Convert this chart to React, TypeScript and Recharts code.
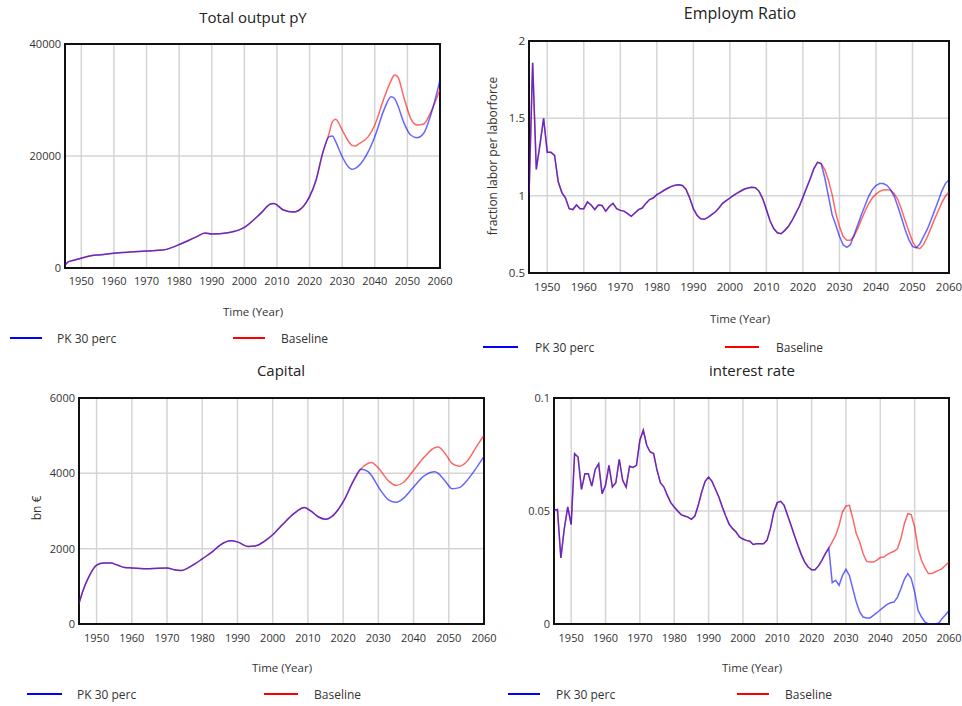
import { CartesianGrid, Line, LineChart, ReferenceArea, XAxis, YAxis } from "recharts"

const FONT = '"Open Sans", "Noto Sans", sans-serif'

const range = (from: number, to: number) =>
  Array.from({ length: to - from + 1 }, (_, i) => from + i)

const yearTicks = [1950, 1960, 1970, 1980, 1990, 2000, 2010, 2020, 2030, 2040, 2050, 2060]

// Total output pY
const outputHistYears = [
  1945, 1946, 1948, 1950, 1953, 1956, 1960, 1965, 1970, 1975, 1980, 1985, 1988, 1990, 1995, 2000,
  2005, 2008, 2009, 2012, 2015, 2018, 2020, 2022, 2024,
]
const outputHist = [
  500, 1100, 1430, 1730, 2200, 2350, 2620, 2850, 3040, 3200, 4170, 5480, 6250, 6070, 6300, 7260,
  9760, 11430, 11540, 10350, 10000, 10950, 12740, 15710, 20470,
]
const outputFutureYears = [
  2026, 2027, 2028, 2030, 2032, 2033, 2034, 2035, 2038, 2040, 2043, 2045, 2046, 2047, 2049, 2051,
  2053, 2055, 2057, 2060,
]
const outputPk = [
  23450, 23570, 22560, 19880, 17980, 17620, 17800, 18200, 20770, 23450, 28510, 30600, 30300, 29110,
  25830, 23750, 23270, 24050, 27020, 33560,
]
const outputBase = [
  24050, 26130, 26550, 24640, 22560, 21900, 21780, 22130, 23450, 25540, 30600, 33450, 34460, 34170,
  30300, 26730, 25540, 25710, 27610, 31900,
]

// Employm Ratio
const employHistYears = range(1945, 2025)
const employHist = [
  1.0, 1.86, 1.17, 1.33, 1.5, 1.28, 1.28, 1.26, 1.09, 1.02, 0.985, 0.916, 0.91, 0.94, 0.916, 0.916,
  0.96, 0.94, 0.91, 0.94, 0.937, 0.9, 0.93, 0.95, 0.916, 0.905, 0.9, 0.884, 0.866, 0.888, 0.91, 0.92,
  0.95, 0.975, 0.985, 1.007, 1.02, 1.035, 1.048, 1.06, 1.067, 1.07, 1.066, 1.04, 0.985, 0.916, 0.873,
  0.85, 0.847, 0.86, 0.877, 0.894, 0.92, 0.95, 0.968, 0.985, 1.002, 1.017, 1.03, 1.043, 1.05, 1.054,
  1.052, 1.028, 0.98, 0.91, 0.838, 0.787, 0.76, 0.754, 0.774, 0.8, 0.838, 0.884, 0.93, 0.99, 1.05,
  1.11, 1.175, 1.215, 1.207,
]
const employFutureYears = range(2026, 2060)
const employPk = [
  1.114, 0.996, 0.877, 0.81, 0.737, 0.683, 0.666, 0.683, 0.748, 0.81, 0.877, 0.937, 0.996, 1.039,
  1.065, 1.078, 1.078, 1.067, 1.039, 0.996, 0.93, 0.856, 0.78, 0.716, 0.672, 0.662, 0.687, 0.733,
  0.78, 0.838, 0.9, 0.963, 1.028, 1.078, 1.103,
]
const employBase = [
  1.168, 1.1, 1.007, 0.888, 0.8, 0.737, 0.711, 0.711, 0.737, 0.787, 0.845, 0.899, 0.948, 0.985,
  1.01, 1.028, 1.037, 1.039, 1.035, 1.013, 0.975, 0.91, 0.838, 0.77, 0.705, 0.666, 0.657, 0.683,
  0.73, 0.787, 0.845, 0.899, 0.953, 0.996, 1.024,
]

// Capital
const capitalHistYears = [
  1945, 1946, 1948, 1950, 1952, 1954, 1956, 1958, 1960, 1965, 1970, 1972, 1974, 1976, 1978, 1980,
  1983, 1985, 1988, 1990, 1993, 1995, 1998, 2000, 2003, 2006, 2009, 2011, 2013, 2015, 2017, 2020,
  2023, 2025,
]
const capitalHist = [
  540, 850, 1290, 1560, 1620, 1620, 1560, 1500, 1490, 1470, 1490, 1440, 1420, 1490, 1600, 1730,
  1930, 2090, 2210, 2180, 2060, 2070, 2220, 2370, 2660, 2930, 3090, 2990, 2840, 2780, 2870, 3240,
  3810, 4110,
]
const capitalFutureYears = [
  2027, 2028, 2030, 2033, 2035, 2037, 2040, 2043, 2046, 2047, 2049, 2051, 2053, 2055, 2058, 2060,
]
const capitalPk = [
  4050, 3950, 3640, 3290, 3230, 3330, 3640, 3930, 4040, 4000, 3790, 3590, 3620, 3790, 4170, 4450,
]
const capitalBase = [
  4260, 4290, 4140, 3790, 3680, 3750, 4080, 4430, 4680, 4700, 4520, 4260, 4190, 4300, 4730, 5010,
]

// interest rate
const rateHistYears = range(1945, 2025)
const rateHist = [
  0.0503, 0.0507, 0.0292, 0.0422, 0.0518, 0.044, 0.0754, 0.0739, 0.0596, 0.0665, 0.0665, 0.061,
  0.0684, 0.0709, 0.0577, 0.0614, 0.0702, 0.0606, 0.0625, 0.0729, 0.0636, 0.0606, 0.0698, 0.0693,
  0.0702, 0.0813, 0.0857, 0.0791, 0.0761, 0.0754, 0.068, 0.0624, 0.0606, 0.0569, 0.0537, 0.0518,
  0.05, 0.0484, 0.0478, 0.0473, 0.0463, 0.0478, 0.0525, 0.0584, 0.0631, 0.065, 0.0631, 0.0596,
  0.0562, 0.0518, 0.0478, 0.0441, 0.0422, 0.0407, 0.0385, 0.0376, 0.037, 0.0366, 0.0352, 0.0355,
  0.0355, 0.0355, 0.037, 0.0422, 0.0496, 0.0537, 0.0543, 0.0525, 0.0481, 0.0437, 0.0392, 0.0348,
  0.0307, 0.0274, 0.0252, 0.024, 0.024, 0.0257, 0.0282, 0.0311, 0.0336,
]
const rateFutureYears = range(2026, 2060)
const ratePk = [
  0.0183, 0.0193, 0.0171, 0.0215, 0.0242, 0.0215, 0.0156, 0.0097, 0.0053, 0.0031, 0.0027, 0.0027,
  0.0038, 0.005, 0.0063, 0.0075, 0.0087, 0.0094, 0.0097, 0.0119, 0.0156, 0.0198, 0.0223, 0.0201,
  0.0142, 0.006, 0.0031, 0.0009, 0, 0, 0, 0.0004, 0.0024, 0.0041, 0.006,
]
const rateBase = [
  0.0363, 0.0392, 0.0437, 0.0496, 0.0522, 0.0525, 0.0466, 0.04, 0.0363, 0.0311, 0.0277, 0.0274,
  0.0274, 0.0283, 0.0294, 0.0296, 0.0307, 0.0316, 0.0322, 0.0333, 0.0378, 0.0444, 0.0488, 0.0484,
  0.0429, 0.0333, 0.0282, 0.0248, 0.0223, 0.0223, 0.023, 0.0237, 0.0245, 0.026, 0.0274,
]

type Row = { year: number; pk: number; base: number }

function buildRows(
  histYears: number[],
  hist: number[],
  futureYears: number[],
  pk: number[],
  base: number[],
): Row[] {
  return [
    ...histYears.map((year, i) => ({ year, pk: hist[i], base: hist[i] })),
    ...futureYears.map((year, i) => ({ year, pk: pk[i], base: base[i] })),
  ]
}

const centered = (x: number, y: number): React.CSSProperties => ({
  position: "absolute",
  left: x,
  top: y,
  transform: "translate(-50%, -50%)",
  whiteSpace: "nowrap",
})

function Legend({ y, blue, red }: { y: number; blue: number[]; red: number[] }) {
  const item = (xs: number[], color: string, label: string) => (
    <>
      <div
        style={{
          position: "absolute",
          left: xs[0],
          top: y - 1,
          width: xs[1] - xs[0],
          height: 2,
          background: color,
        }}
      />
      <div
        style={{
          position: "absolute",
          left: xs[2],
          top: y,
          transform: "translateY(-50%)",
          fontSize: 12,
          color: "#333",
          whiteSpace: "nowrap",
        }}
      >
        {label}
      </div>
    </>
  )
  return (
    <>
      {item(blue, "#0000ff", "PK 30 perc")}
      {item(red, "#ff0000", "Baseline")}
    </>
  )
}

type PanelProps = {
  left: number
  top: number
  width: number
  height: number
  margin: { top: number; right: number; bottom: number; left: number }
  yWidth: number
  xHeight: number
  xTickMargin: number
  fontSize: number
  smooth: boolean
  data: Row[]
  domain: [number, number]
  ticks: number[]
}

function Panel(p: PanelProps) {
  const tick = { fill: "#333", fontSize: p.fontSize, fontFamily: FONT }
  const lineType = p.smooth ? "monotone" : "linear"
  return (
    <div style={{ position: "absolute", left: p.left, top: p.top }}>
      <LineChart width={p.width} height={p.height} data={p.data} margin={p.margin}>
        <CartesianGrid stroke="#d5d5d5" strokeWidth={1.5} />
        <XAxis
          dataKey="year"
          type="number"
          domain={[1945, 2060]}
          ticks={yearTicks}
          interval={0}
          allowDataOverflow
          axisLine={false}
          tickLine={false}
          tickSize={0}
          tickMargin={p.xTickMargin}
          height={p.xHeight}
          tick={tick}
        />
        <YAxis
          type="number"
          domain={p.domain}
          ticks={p.ticks}
          interval={0}
          allowDataOverflow
          axisLine={false}
          tickLine={false}
          tickSize={0}
          tickMargin={4}
          width={p.yWidth}
          tick={tick}
        />
        <Line
          dataKey="base"
          type={lineType}
          stroke="#ff0000"
          strokeOpacity={0.6}
          strokeWidth={1.5}
          dot={false}
          activeDot={false}
          isAnimationActive={false}
        />
        <Line
          dataKey="pk"
          type={lineType}
          stroke="#0000ff"
          strokeOpacity={0.6}
          strokeWidth={1.5}
          dot={false}
          activeDot={false}
          isAnimationActive={false}
        />
        <ReferenceArea
          x1={1945}
          x2={2060}
          y1={p.domain[0]}
          y2={p.domain[1]}
          fill="none"
          stroke="#111"
          strokeWidth={2}
          ifOverflow="visible"
        />
      </LineChart>
    </div>
  )
}

export default function App() {
  const title = { fontSize: 15, color: "#222" }
  const xLabel = { fontSize: 11.5, color: "#333" }
  return (
    <div
      style={{
        position: "absolute",
        left: 0,
        top: 0,
        width: 962,
        height: 706,
        background: "#fff",
        fontFamily: FONT,
      }}
    >
      <Panel
        left={0}
        top={0}
        width={480}
        height={300}
        margin={{ top: 44, right: 40, bottom: 2, left: 0 }}
        yWidth={65}
        xHeight={30}
        xTickMargin={9}
        fontSize={11}
        smooth
        data={buildRows(outputHistYears, outputHist, outputFutureYears, outputPk, outputBase)}
        domain={[0, 40000]}
        ticks={[0, 20000, 40000]}
      />
      <Panel
        left={480}
        top={0}
        width={482}
        height={300}
        margin={{ top: 41, right: 13, bottom: 2, left: 0 }}
        yWidth={49}
        xHeight={25}
        xTickMargin={10}
        fontSize={11.5}
        smooth={false}
        data={buildRows(employHistYears, employHist, employFutureYears, employPk, employBase)}
        domain={[0.5, 2]}
        ticks={[0.5, 1, 1.5, 2]}
      />
      <Panel
        left={0}
        top={355}
        width={510}
        height={300}
        margin={{ top: 43, right: 26, bottom: 6, left: 0 }}
        yWidth={79}
        xHeight={25}
        xTickMargin={10}
        fontSize={11}
        smooth
        data={buildRows(capitalHistYears, capitalHist, capitalFutureYears, capitalPk, capitalBase)}
        domain={[0, 6000]}
        ticks={[0, 2000, 4000, 6000]}
      />
      <Panel
        left={480}
        top={355}
        width={482}
        height={300}
        margin={{ top: 43, right: 13, bottom: 6, left: 0 }}
        yWidth={74}
        xHeight={25}
        xTickMargin={10}
        fontSize={11}
        smooth={false}
        data={buildRows(rateHistYears, rateHist, rateFutureYears, ratePk, rateBase)}
        domain={[0, 0.1]}
        ticks={[0, 0.05, 0.1]}
      />

      <div style={{ ...centered(253, 17), ...title }}>Total output pY</div>
      <div style={{ ...centered(740, 13), ...title, fontSize: 16 }}>Employm Ratio</div>
      <div style={{ ...centered(281, 370), ...title }}>Capital</div>
      <div style={{ ...centered(752, 370), ...title }}>interest rate</div>

      <div style={{ ...centered(253, 311), ...xLabel }}>Time (Year)</div>
      <div style={{ ...centered(740, 318), ...xLabel }}>Time (Year)</div>
      <div style={{ ...centered(282, 667), ...xLabel }}>Time (Year)</div>
      <div style={{ ...centered(752, 667), ...xLabel }}>Time (Year)</div>

      <div
        style={{
          ...centered(492, 156),
          transform: "translate(-50%, -50%) rotate(-90deg)",
          fontSize: 12,
          color: "#333",
        }}
      >
        fraction labor per laborforce
      </div>
      <div
        style={{
          ...centered(36, 508),
          transform: "translate(-50%, -50%) rotate(-90deg)",
          fontSize: 12,
          color: "#333",
        }}
      >
        bn €
      </div>

      <Legend y={338} blue={[10, 42, 57]} red={[233, 265, 281]} />
      <Legend y={347} blue={[483, 518, 535]} red={[725, 759, 776]} />
      <Legend y={694} blue={[27, 62, 77]} red={[264, 298, 314]} />
      <Legend y={694} blue={[508, 540, 556]} red={[737, 769, 785]} />
    </div>
  )
}
